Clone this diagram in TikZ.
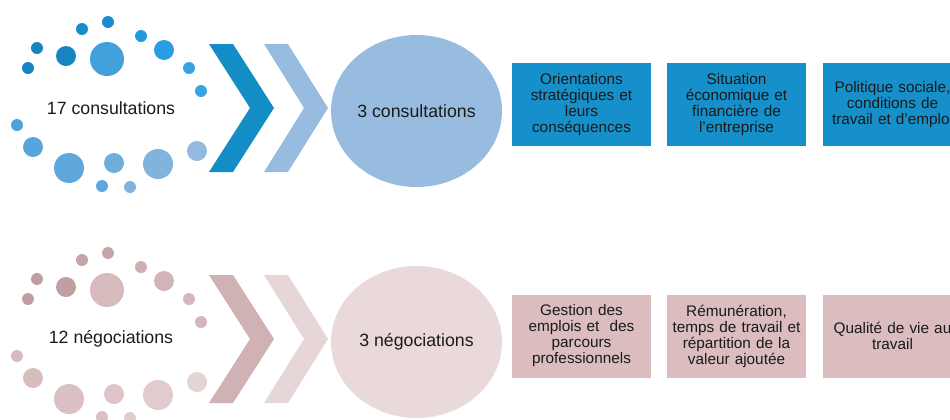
\documentclass[tikz,border=0pt]{standalone}
\usepackage{fontspec}
\setmainfont{Liberation Sans}
\usetikzlibrary{shapes.geometric}
\definecolor{txt}{HTML}{1A1A1A}
\definecolor{chevA}{HTML}{128DC6}
\definecolor{chevB}{HTML}{97BCE0}
\definecolor{ellA}{HTML}{98BCE0}
\definecolor{boxA}{HTML}{1690CA}
\definecolor{chevC}{HTML}{D0B2B4}
\definecolor{chevD}{HTML}{E7D6D7}
\definecolor{ellB}{HTML}{E9D9DA}
\definecolor{boxB}{HTML}{DCBDBF}
% blue dots
\definecolor{bA}{HTML}{1584C0}
\definecolor{bB}{HTML}{1A8CCB}
\definecolor{bC}{HTML}{42A1DC}
\definecolor{bD}{HTML}{2399DE}
\definecolor{bE}{HTML}{2A9EE2}
\definecolor{bF}{HTML}{38A3E2}
\definecolor{bG}{HTML}{4AA3DE}
\definecolor{bH}{HTML}{56A6DC}
\definecolor{bI}{HTML}{5EA8DD}
\definecolor{bJ}{HTML}{70ADDB}
\definecolor{bK}{HTML}{82B3DC}
\definecolor{bL}{HTML}{92B9DF}
% pink dots
\definecolor{pA}{HTML}{C09EA1}
\definecolor{pB}{HTML}{C6A5A8}
\definecolor{pC}{HTML}{D6BABC}
\definecolor{pD}{HTML}{CEAFB2}
\definecolor{pE}{HTML}{D2B4B7}
\definecolor{pF}{HTML}{D4B7BA}
\definecolor{pG}{HTML}{D6BBBD}
\definecolor{pH}{HTML}{D8BDBF}
\definecolor{pI}{HTML}{DAC0C2}
\definecolor{pJ}{HTML}{DDC5C7}
\definecolor{pK}{HTML}{E1CBCC}
\definecolor{pL}{HTML}{E6D3D4}
\tikzset{
  mainlabel/.style={text=txt, font=\fontsize{13.3pt}{15pt}\selectfont, inner sep=0pt},
  topic/.style={rectangle, minimum width=104.25pt, minimum height=62.25pt, inner sep=0pt,
     text=txt, align=center, text width=101pt, font=\fontsize{11.5pt}{12pt}\selectfont},
  bubble/.style={ellipse, minimum width=128.25pt, minimum height=114pt, inner sep=0pt,
     text=txt, font=\fontsize{13.3pt}{15pt}\selectfont}
}
\begin{document}
\begin{tikzpicture}[x=0.75pt,y=-0.75pt]
\useasboundingbox (0,0) rectangle (950,419);
\clip (0,0) rectangle (950,419);
% ---------- row 1 : consultations ----------
\foreach \cx/\cy/\r/\c in {108/22/6/bB, 82/29/6/bB, 141/36/6/bD, 37/48/6/bA, 66/56/10/bA,
   107/59/17/bC, 164/50/10/bE, 28/68/6/bA, 189/68/6/bF, 201/91/6/bF, 17/125/6/bG,
   33/147/10/bH, 69/168/15/bI, 114/163/10/bJ, 158/164/15/bK, 197/151/10/bL,
   102/186/6/bI, 130/187/6/bK}
  {\fill[\c] (\cx,\cy) circle[radius=\r*0.75pt];}
\node[mainlabel] (c17) at (111,108) {17 consultations};
\fill[chevA] (209,44) -- (233,44) -- (274,108) -- (233,172) -- (209,172) -- (250,108) -- cycle;
\fill[chevB] (264,44) -- (288,44) -- (328,108) -- (288,172) -- (264,172) -- (304,108) -- cycle;
\node[bubble, fill=ellA] (c3) at (416.5,111) {3 consultations};
\node[topic, fill=boxA] (t1) at (581.5,104.5) {Orientations\\stratégiques et\\leurs\\conséquences};
\node[topic, fill=boxA] (t2) at (736.5,104.5) {Situation\\économique et\\financière de\\l’entreprise};
\node[topic, fill=boxA] (t3) at (892.5,104.5) {Politique sociale,\\conditions de\\travail et d’emploi};
% ---------- row 2 : négociations ----------
\begin{scope}[yshift=-231*0.75pt]
\foreach \cx/\cy/\r/\c in {108/22/6/pB, 82/29/6/pB, 141/36/6/pD, 37/48/6/pA, 66/56/10/pA,
   107/59/17/pC, 164/50/10/pE, 28/68/6/pA, 189/68/6/pF, 201/91/6/pF, 17/125/6/pG,
   33/147/10/pH, 69/168/15/pI, 114/163/10/pJ, 158/164/15/pK, 197/151/10/pL,
   102/186/6/pI, 130/187/6/pK}
  {\fill[\c] (\cx,\cy) circle[radius=\r*0.75pt];}
\node[mainlabel] (n12) at (111,108) {12 négociations};
\fill[chevC] (209,44) -- (233,44) -- (274,108) -- (233,172) -- (209,172) -- (250,108) -- cycle;
\fill[chevD] (264,44) -- (288,44) -- (328,108) -- (288,172) -- (264,172) -- (304,108) -- cycle;
\node[bubble, fill=ellB] (n3) at (416.5,111) {3 négociations};
\node[topic, fill=boxB] (u1) at (581.5,105) {Gestion des\\emplois et\ \ des\\parcours\\professionnels};
\node[topic, fill=boxB] (u2) at (736.5,105) {Rémunération,\\temps de travail et\\répartition de la\\valeur ajoutée};
\node[topic, fill=boxB] (u3) at (892.5,105) {Qualité de vie au\\travail};
\end{scope}
\end{tikzpicture}
\end{document}
